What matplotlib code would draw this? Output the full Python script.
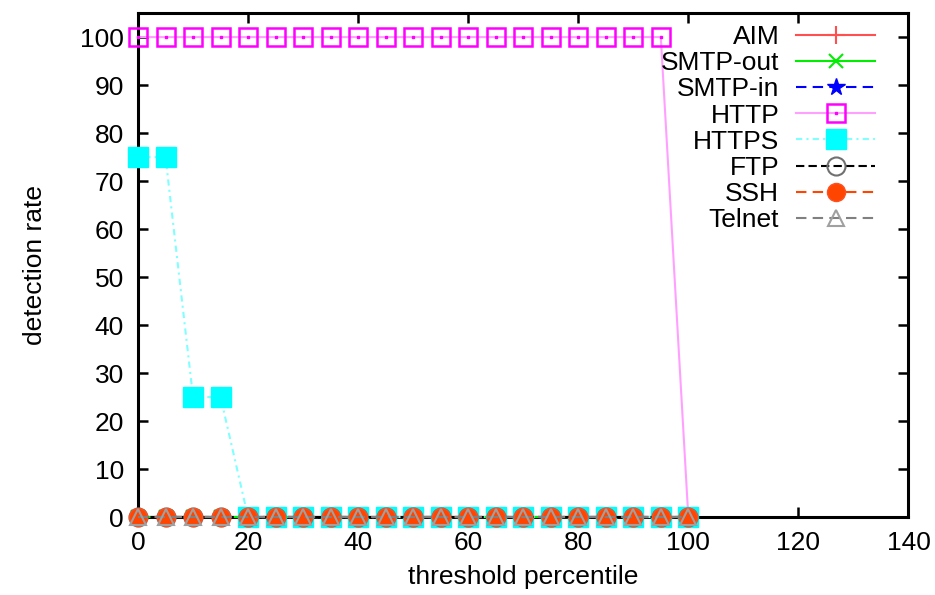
import matplotlib
matplotlib.use('Agg')
import matplotlib.pyplot as plt

plt.rcParams['font.family'] = ['Liberation Sans', 'DejaVu Sans']

# threshold percentiles 0..100 in steps of 5
threshold = [0, 5, 10, 15, 20, 25, 30, 35, 40, 45, 50,
             55, 60, 65, 70, 75, 80, 85, 90, 95, 100]

aim = [0] * 21
smtp_out = [0] * 21
smtp_in = [0] * 21
http = [100] * 20 + [0]
https = [75, 75, 25, 25] + [0] * 17
ftp = [0] * 21
ssh = [0] * 21
telnet = [0] * 21

fig = plt.figure(figsize=(9.35, 5.95), dpi=100)
ax = fig.add_axes([0.1476, 0.131, 0.824, 0.847])

fs = 19
ms = 13

l_aim, = ax.plot(threshold, aim, color='#ff5050', lw=1.5, marker='+', ms=ms,
                 mew=1.5, label='AIM', clip_on=False, zorder=3)
l_so, = ax.plot(threshold, smtp_out, color='#00ee00', lw=1.5, marker='x', ms=ms * 0.8,
                mew=1.5, label='SMTP-out', clip_on=False, zorder=3)
l_si, = ax.plot(threshold, smtp_in, color='#0000ff', lw=1.5, ls=(0, (5, 3)), marker='*',
                ms=ms, label='SMTP-in', clip_on=False, zorder=3)
l_http, = ax.plot(threshold, http, color='#ffa0ff', lw=1.5, marker='s', ms=ms,
                  mfc='none', mec='#ff00ff', mew=1.8, clip_on=False, zorder=3)
l_http_dot, = ax.plot(threshold, http, ls='none', marker='s', ms=2, color='#ff00ff',
                      clip_on=False, zorder=3)
l_https, = ax.plot(threshold, https, color='#80ffff', lw=1.5, ls=(0, (3, 2, 1, 2)),
                   marker='s', ms=ms + 1, mfc='#00ffff', mec='#00ffff',
                   label='HTTPS', clip_on=False, zorder=3)
l_ftp, = ax.plot(threshold, ftp, color='black', lw=1.5, ls=(0, (4, 2)), marker='o',
                 ms=ms, mfc='none', mec='#707070', mew=1.5, label='FTP',
                 clip_on=False, zorder=3)
l_ssh, = ax.plot(threshold, ssh, color='#ff4500', lw=1.5, ls=(0, (5, 3)), marker='o',
                 ms=ms, mfc='#ff4500', mec='#ff5020', label='SSH',
                 clip_on=False, zorder=3)
l_tel, = ax.plot(threshold, telnet, color='#808080', lw=1.5, ls=(0, (5, 3)), marker='^',
                 ms=ms * 0.9, mfc='none', mec='#a0a0a0', mew=1.5, label='Telnet',
                 clip_on=False, zorder=3)

ax.set_xlim(0, 140)
ax.set_ylim(0, 105)
ax.set_xticks(range(0, 141, 20))
ax.set_yticks(range(0, 101, 10))

for s in ax.spines.values():
    s.set_linewidth(2.2)
ax.tick_params(direction='in', length=7, width=1.8, top=True, right=True,
               labelsize=fs, pad=10)

ax.set_xlabel('threshold percentile', fontsize=fs, labelpad=7)
ax.set_ylabel('detection rate', fontsize=fs, labelpad=24)

handles = [l_aim, l_so, l_si, (l_http, l_http_dot), l_https, l_ftp, l_ssh, l_tel]
labels = ['AIM', 'SMTP-out', 'SMTP-in', 'HTTP', 'HTTPS', 'FTP', 'SSH', 'Telnet']
leg = ax.legend(handles, labels, loc='upper right', bbox_to_anchor=(0.957, 0.976),
                frameon=False, markerfirst=False, fontsize=fs, handlelength=3.0,
                handletextpad=0.64, labelspacing=0.08, borderpad=0, borderaxespad=0,
                numpoints=1)
leg.set_zorder(5)

fig.savefig('out.png', dpi=100)
